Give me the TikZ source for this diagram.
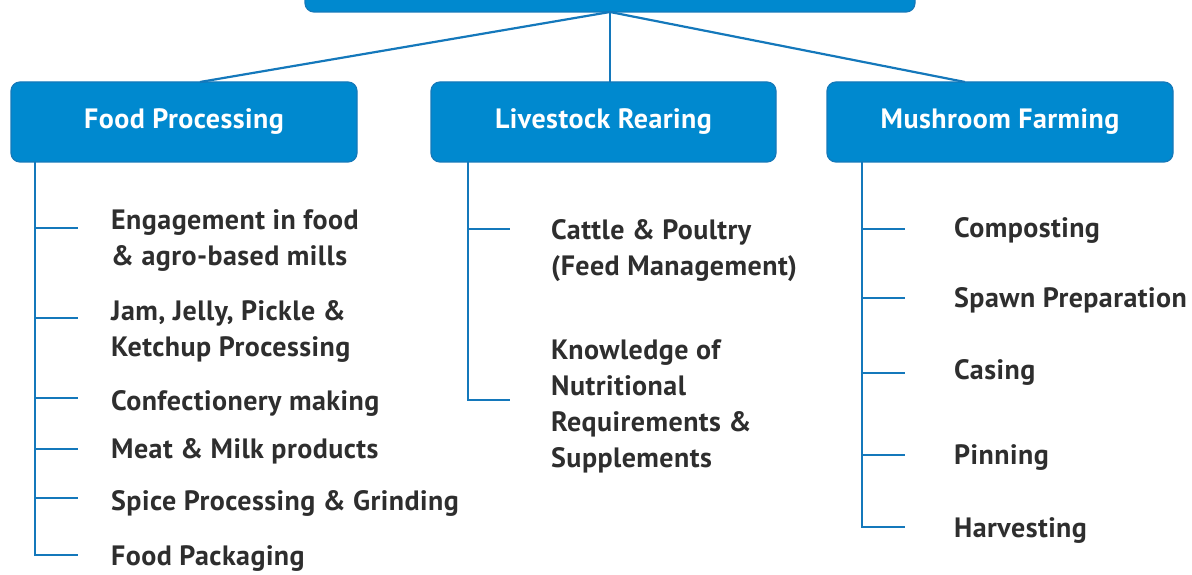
\documentclass[tikz,border=0pt]{standalone}
\usepackage{fontspec}
\setmainfont{PT Sans}[LetterSpace=1.6]
\begin{document}
\definecolor{boxblue}{HTML}{0089CF}
\definecolor{boxedge}{HTML}{1479BA}
\definecolor{linkblue}{HTML}{1478BB}
\definecolor{itemgray}{HTML}{2E2E2E}
\begin{tikzpicture}[x=1pt,y=-1pt,
  catbox/.style={draw=boxedge, line width=1.2pt, fill=boxblue, rounded corners=9pt,
    text=white, font=\fontsize{28}{30}\selectfont\bfseries, inner sep=0pt},
  link/.style={draw=linkblue, line width=2.2pt},
  item/.style={anchor=west, inner sep=0pt, text=itemgray, align=left,
    font=\fontsize{28}{36}\selectfont\bfseries}]
\useasboundingbox (0,0) rectangle (1192,575);

% root box (its top runs off the page)
\node[catbox, minimum width=610pt, minimum height=70pt] (root) at (610,-23) {};

% three category boxes
\node[catbox, minimum width=346pt, minimum height=80pt] (food) at (184,122) {Food Processing};
\node[catbox, minimum width=345pt, minimum height=80pt] (live) at (603.5,122) {Livestock Rearing};
\node[catbox, minimum width=346pt, minimum height=80pt] (mush) at (1000,122) {Mushroom Farming};

% links from the root to the categories
\coordinate (hub) at (610,12);
\draw[link] (hub) -- (200,82);
\draw[link] (hub) -- (610,82);
\draw[link] (hub) -- (965,82);

% Food Processing branch
\node[item] (f1) at (111,241) {Engagement in food\\\& agro-based mills};
\node[item] (f2) at (111,331) {Jam, Jelly, Pickle \&\\Ketchup Processing};
\node[item] (f3) at (111,403) {Confectionery making};
\node[item] (f4) at (111,451) {Meat \& Milk products};
\node[item] (f5) at (111,503) {Spice Processing \& Grinding};
\node[item] (f6) at (111,559) {Food Packaging};
\coordinate (ft) at (35,162);
\draw[link] (ft) -- (35,555) -- (78,555);
\foreach \y in {228,318,398,449,498}
  \draw[link] (35,\y) -- (78,\y);

% Livestock Rearing branch
\node[item] (l1) at (551,251) {Cattle \& Poultry\\(Feed Management)};
\node[item] (l2) at (551,406) {Knowledge of\\Nutritional\\Requirements \&\\Supplements};
\coordinate (lt) at (468,162);
\draw[link] (lt) -- (468,400) -- (510,400);
\draw[link] (468,229) -- (510,229);

% Mushroom Farming branch
\node[item] (m1) at (954,230) {Composting};
\node[item] (m2) at (954,300) {Spawn Preparation};
\node[item] (m3) at (954,372) {Casing};
\node[item] (m4) at (954,458) {Pinning};
\node[item] (m5) at (954,531) {Harvesting};
\coordinate (mt) at (862,162);
\draw[link] (mt) -- (862,527) -- (905,527);
\foreach \y in {229,298,373,455}
  \draw[link] (862,\y) -- (905,\y);
\end{tikzpicture}
\end{document}
